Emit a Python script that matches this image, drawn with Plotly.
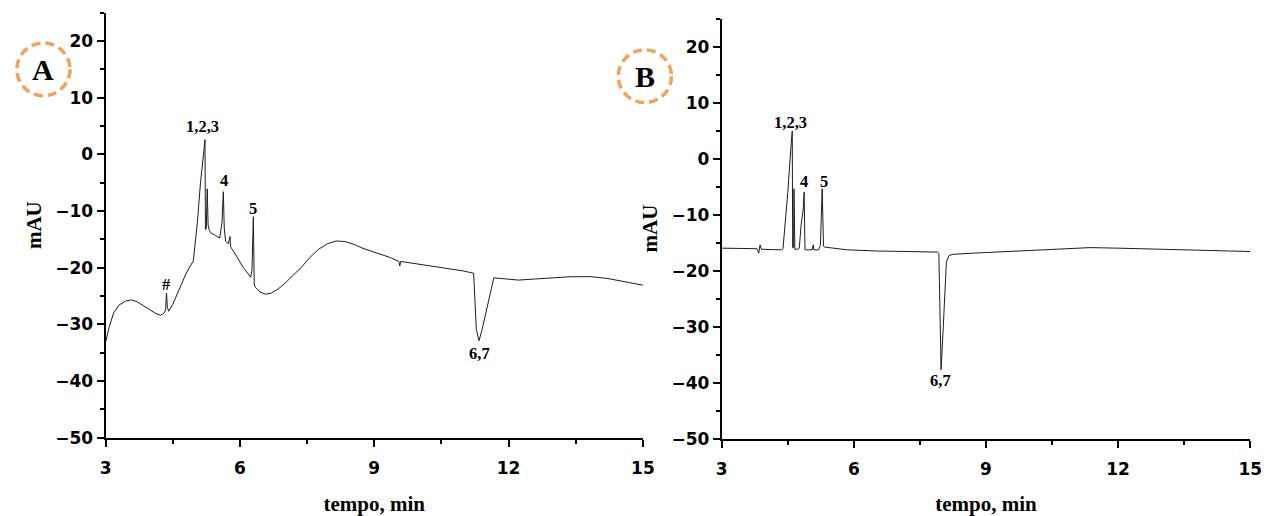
import plotly.graph_objects as go

# Chromatogram A: retention time (min) and detector response (mAU)
time_a = [3.00, 3.08, 3.18, 3.30, 3.45, 3.57, 3.70, 3.85, 4.00, 4.12, 4.23, 4.30, 4.34,
          4.36, 4.38, 4.41, 4.50, 4.60, 4.70, 4.80, 4.90, 4.96, 5.05, 5.12, 5.20, 5.22,
          5.23, 5.25, 5.27, 5.29, 5.32, 5.36, 5.45, 5.55, 5.60, 5.63, 5.65, 5.68, 5.74,
          5.78, 5.79, 5.85, 5.95, 6.05, 6.15, 6.24, 6.27, 6.30, 6.32, 6.35, 6.45, 6.57,
          6.70, 6.85, 7.00, 7.20, 7.38, 7.55, 7.75, 7.95, 8.15, 8.35, 8.55, 8.75, 8.95,
          9.14, 9.35, 9.55, 9.57, 9.59, 9.80, 10.00, 10.25, 10.50, 10.75, 11.00, 11.22,
          11.28, 11.34, 11.41, 11.67, 11.90, 12.22, 12.60, 13.00, 13.40, 13.84, 14.20,
          14.60, 15.00]
mau_a = [-33.2, -30.5, -28.0, -26.6, -25.9, -25.7, -26.0, -26.8, -27.6, -28.1, -28.4, -28.1, -27.5,
         -24.5, -27.0, -27.7, -26.5, -24.6, -22.7, -21.0, -19.6, -18.8, -12.0, -5.0, 1.0, 2.6,
         -13.3, -13.0, -6.1, -12.5, -13.5, -13.9, -14.3, -14.8, -12.0, -6.6, -13.0, -15.3, -15.8,
         -14.5, -16.3, -17.0, -18.3, -19.7, -20.7, -21.7, -20.5, -11.0, -23.0, -23.5, -24.3, -24.7,
         -24.5, -23.8, -22.8, -21.3, -19.9, -18.3, -16.8, -15.8, -15.3, -15.4, -15.9, -16.6, -17.1,
         -17.6, -18.2, -18.9, -19.7, -18.9, -19.2, -19.4, -19.7, -20.0, -20.3, -20.6, -21.0,
         -30.9, -32.9, -30.9, -21.8, -22.0, -22.2, -22.0, -21.8, -21.6, -21.6, -21.9,
         -22.5, -23.1]

# Chromatogram B
time_b = [3.00, 3.50, 3.80, 3.84, 3.87, 3.90, 4.10, 4.36, 4.39, 4.50, 4.57, 4.60, 4.61,
          4.63, 4.64, 4.66, 4.72, 4.76, 4.80, 4.85, 4.87, 4.89, 4.92, 5.05, 5.08, 5.09,
          5.20, 5.24, 5.28, 5.31, 5.33, 5.50, 5.85, 6.50, 7.34, 7.90, 7.93, 7.96, 7.98,
          8.03, 8.10, 8.16, 8.25, 8.69, 9.50, 10.48, 11.37, 12.00, 13.24, 14.20, 15.00]
mau_b = [-16.0, -16.0, -16.1, -16.9, -15.4, -16.2, -16.3, -16.3, -16.1, -6.0, 2.0, 4.9, -15.9,
         -15.9, -5.4, -16.2, -16.2, -16.0, -12.0, -9.0, -6.0, -16.3, -16.3, -16.3, -15.4, -16.3,
         -16.3, -15.5, -5.4, -15.6, -15.8, -16.0, -16.3, -16.5, -16.6, -16.7, -17.0, -35.0, -37.7,
         -30.0, -18.5, -17.3, -17.1, -16.9, -16.6, -16.2, -15.9, -16.0, -16.3, -16.5, -16.6]

# Peak labels: text, time, response position
labels_a = ["#", "1,2,3", "4", "5", "6,7"]
label_time_a = [4.36, 5.16, 5.64, 6.30, 11.36]
label_mau_a = [-23.0, 4.9, -4.7, -9.6, -35.2]

labels_b = ["1,2,3", "4", "5", "6,7"]
label_time_b = [4.57, 4.86, 5.31, 7.97]
label_mau_b = [6.5, -4.1, -4.1, -39.7]

x_ticks = [3, 6, 9, 12, 15]
y_ticks = [-50, -40, -30, -20, -10, 0, 10, 20]

W, H = 1278, 516
SERIF = "Liberation Serif, Times New Roman, serif"
SANS = "DejaVu Sans, Arial, sans-serif"
ORANGE = "#F3A25C"

fig = go.Figure()
fig.add_trace(go.Scatter(x=time_a, y=mau_a, mode="lines", xaxis="x", yaxis="y",
                         line=dict(color="#1c1c1c", width=1), showlegend=False))
fig.add_trace(go.Scatter(x=time_b, y=mau_b, mode="lines", xaxis="x2", yaxis="y2",
                         line=dict(color="#1c1c1c", width=1), showlegend=False))

annotations = []
for txt, t, v in zip(labels_a, label_time_a, label_mau_a):
    annotations.append(dict(x=t, y=v, xref="x", yref="y", text=txt, showarrow=False,
                             font=dict(family=SERIF, size=16.5, color="black", weight="bold")))
for txt, t, v in zip(labels_b, label_time_b, label_mau_b):
    annotations.append(dict(x=t, y=v, xref="x2", yref="y2", text=txt, showarrow=False,
                             font=dict(family=SERIF, size=16.5, color="black", weight="bold")))


def px_x(p):
    return p / W


def px_y(p):
    return 1 - p / H


# Panel badges: dashed circles with letters
shapes = []
for letter, cx, cy in [("A", 38, 71), ("B", 648, 78)]:
    r = 27
    shapes.append(dict(type="circle", xref="paper", yref="paper",
                       x0=px_x(cx - r), x1=px_x(cx + r), y0=px_y(cy + r), y1=px_y(cy - r),
                       line=dict(color=ORANGE, width=3.5, dash="9px,5px")))
    annotations.append(dict(x=px_x(cx), y=px_y(cy), xref="paper", yref="paper", text=letter,
                            showarrow=False, xanchor="center", yanchor="middle",
                            font=dict(family=SERIF, size=30, color="black", weight="bold")))

axis_common = dict(showline=True, linecolor="black", linewidth=2, ticks="outside",
                   ticklen=7, tickwidth=2, tickcolor="black", showgrid=False, zeroline=False,
                   tickfont=dict(family=SANS, size=17, color="black", weight="bold"))

xaxis_common = dict(axis_common, range=[3, 15], tickmode="array", tickvals=x_ticks,
                    ticklabelstandoff=7,
                    minor=dict(ticks="outside", ticklen=4, tickwidth=2, tickcolor="black",
                               dtick=1.5, tick0=3),
                    title=dict(text="tempo, min", standoff=22,
                               font=dict(family=SERIF, size=21, color="black", weight="bold")))
yaxis_common = dict(axis_common, range=[-50, 25], tickmode="array", tickvals=y_ticks,
                    minor=dict(ticks="outside", ticklen=4, tickwidth=2, tickcolor="black",
                               dtick=5, tick0=-50),
                    title=dict(text="mAU", standoff=8,
                               font=dict(family=SERIF, size=21, color="black", weight="bold")))

fig.update_layout(
    width=W, height=H,
    margin=dict(l=0, r=0, t=0, b=0),
    paper_bgcolor="white", plot_bgcolor="white",
    xaxis=dict(xaxis_common, domain=[px_x(101), px_x(646)], anchor="y"),
    yaxis=dict(yaxis_common, domain=[px_y(448), px_y(13)], anchor="x"),
    xaxis2=dict(xaxis_common, domain=[px_x(726), px_x(1262)], anchor="y2"),
    yaxis2=dict(yaxis_common, domain=[px_y(449), px_y(19)], anchor="x2"),
    annotations=annotations,
    shapes=shapes,
)

fig.write_html("out.html")
